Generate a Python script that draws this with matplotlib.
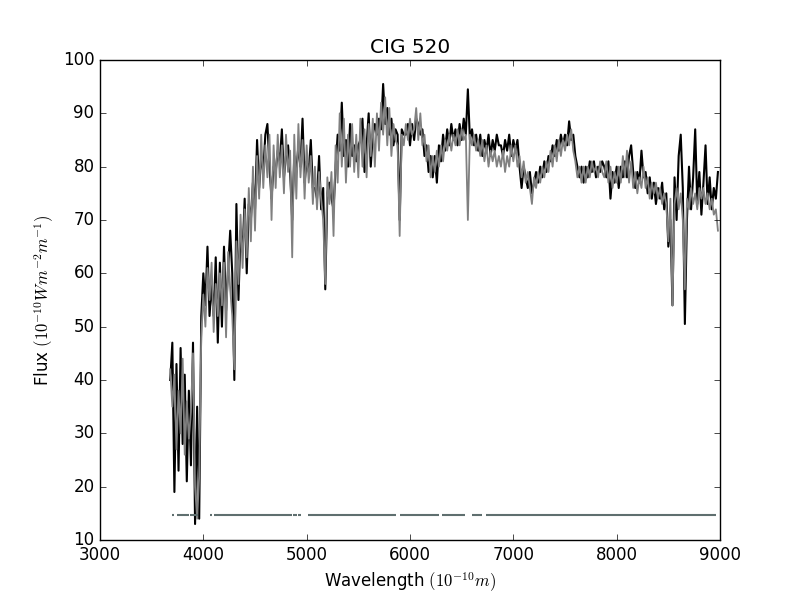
import numpy as np
import matplotlib
matplotlib.use("Agg")
import matplotlib.pyplot as plt

plt.style.use("classic")

# wavelength grid of the read-off samples (Angstrom)
wl_start = 3680
wl_step = 20

# observed spectrum (black)
flux_obs = [
    40, 47, 19, 43, 23, 46, 28, 41, 21, 38,
    24, 47, 13, 35, 14, 52, 60, 54, 65, 52,
    58, 52, 63, 47, 62, 50, 65, 53, 61, 68,
    60, 40, 73, 55, 68, 64, 74, 60, 73, 70,
    77, 72, 85, 76, 82, 79, 86, 88, 80, 74,
    80, 79, 83, 81, 87, 78, 82, 84, 79, 70,
    82, 79, 84, 80, 89, 77, 81, 79, 85, 76,
    76, 74, 82, 72, 76, 57, 75, 77, 74, 72,
    80, 86, 83, 92, 82, 85, 80, 88, 82, 84,
    81, 84, 85, 89, 79, 84, 90, 80, 86, 88,
    86, 89, 87, 95.5, 88, 91, 86, 89, 84, 87,
    86, 70, 87, 86, 86, 88, 84, 88, 85, 89,
    88, 86, 87, 82, 84, 79, 82, 78, 82, 77,
    84, 81, 86, 83, 87, 84, 88, 85, 87, 84,
    88, 85, 89, 86, 94.5, 85, 87, 84, 86, 83,
    86, 82, 85, 83, 86, 82, 85, 83, 86, 84,
    84, 82, 85, 83, 86, 82, 85, 83, 85, 80,
    76, 80, 78, 76, 79, 75, 77, 79, 77, 80,
    78, 81, 79, 82, 81, 84, 82, 85, 83, 86,
    84, 86, 84, 88.5, 85, 86, 82, 80, 78, 80,
    77, 80, 78, 81, 79, 81, 78, 80, 79, 81,
    80, 78, 81, 74, 79, 77, 80, 76, 80, 78,
    81, 78, 82, 84, 79, 76, 79, 77, 83, 78,
    79, 75, 78, 74, 77, 73, 76, 74, 77, 72,
    75, 65, 70, 54, 78, 70, 82, 86, 76, 50.5,
    70, 80, 72, 78, 87, 73, 79, 71, 77, 84,
    73, 78, 72, 76, 74, 79,
]

# model spectrum (grey)
flux_fit = [
    42, 35, 41, 27, 38, 30, 44, 26, 36, 29,
    34, 45, 20, 14, 22, 48, 56, 50, 61, 55,
    62, 49, 58, 52, 60, 54, 62, 48, 64, 57,
    52, 42, 66, 58, 71, 61, 72, 63, 76, 66,
    80, 68, 82, 74, 86, 76, 84, 78, 86, 70,
    84, 76, 86, 78, 84, 75, 86, 79, 83, 63,
    86, 74, 88, 78, 85, 74, 84, 77, 82, 73,
    80, 72, 79, 74, 70, 58, 78, 73, 79, 67,
    84, 77, 90, 80, 89, 77, 86, 80, 88, 79,
    86, 78, 89, 80, 87, 78, 88, 82, 89, 80,
    90, 83, 92, 86, 93, 84, 91, 82, 88, 85,
    84, 67, 86, 84, 88, 85, 89, 86, 87, 91,
    85, 90, 84, 86, 81, 84, 78, 82, 79, 83,
    80, 84, 81, 85, 83, 86, 83, 86, 84, 87,
    84, 87, 85, 86, 70, 86, 84, 86, 83, 85,
    82, 85, 81, 84, 80, 83, 81, 83, 80, 82,
    80, 83, 79, 82, 80, 84, 81, 84, 80, 82,
    78, 81, 77, 79, 76, 73, 78, 76, 79, 77,
    80, 78, 81, 79, 83, 80, 84, 81, 85, 82,
    85, 83, 86, 84, 87, 83, 81, 78, 80, 77,
    80, 77, 80, 78, 81, 79, 80, 78, 81, 79,
    78, 81, 77, 80, 76, 79, 77, 80, 77, 82,
    78, 83, 77, 81, 76, 79, 75, 78, 76, 80,
    76, 78, 74, 77, 75, 77, 74, 76, 73, 75,
    73, 66, 74, 54, 73, 76, 72, 75, 70, 57,
    74, 72, 76, 73, 75, 72, 76, 74, 76, 73,
    75, 72, 74, 71, 72, 68,
]

# unmasked wavelength ranges, drawn as a line at the bottom
mask_level = 14.6
mask_start = [3700, 3742, 3874, 4060, 4105, 4745, 4870, 4915, 5015, 5900, 6310, 6600, 6735]
mask_end = [3716, 3866, 3948, 4082, 4738, 4860, 4905, 4945, 5865, 6285, 6530, 6700, 8960]

wl = wl_start + wl_step * np.arange(len(flux_obs))

fig = plt.figure(figsize=(8, 6))
ax = fig.add_subplot(111)

ax.plot(wl, flux_obs, color="black", lw=1.5)
ax.plot(wl, flux_fit, color="#808080", lw=1.3)
ax.hlines([mask_level] * len(mask_start), mask_start, mask_end, color="#5f6f6f", lw=1.5)

ax.set_xlim(3000, 9000)
ax.set_ylim(10, 100)
ax.set_title("CIG 520")
ax.set_xlabel(r"Wavelength $(10^{-10}m)$")
ax.set_ylabel(r"Flux $(10^{-10}Wm^{-2}m^{-1})$")

fig.savefig("out.png", dpi=100)
